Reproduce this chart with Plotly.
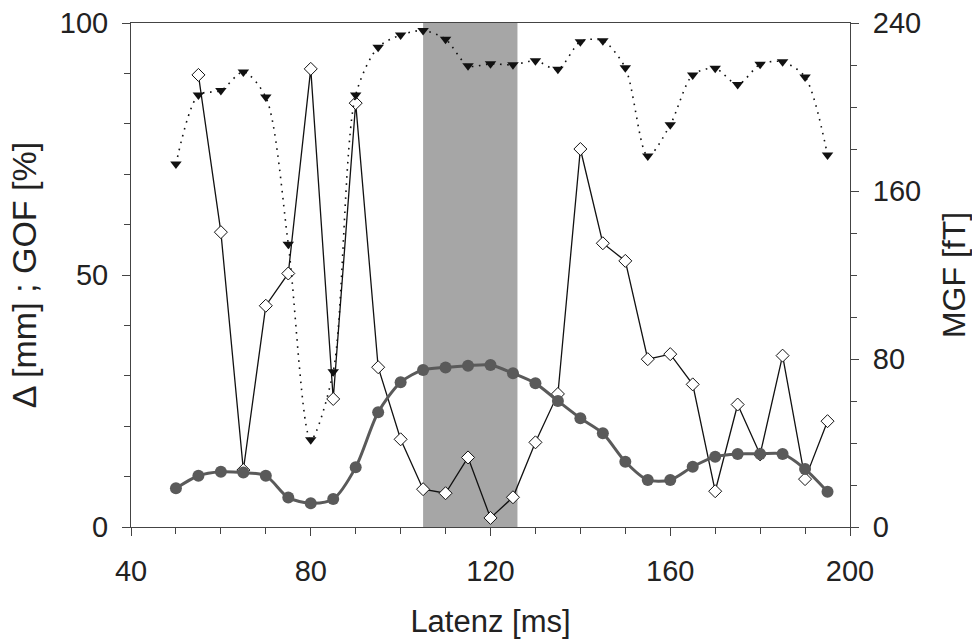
import plotly.graph_objects as go

# ---- data ----
latenz = [50, 55, 60, 65, 70, 75, 80, 85, 90, 95, 100, 105, 110, 115, 120,
          125, 130, 135, 140, 145, 150, 155, 160, 165, 170, 175, 180, 185, 190, 195]

gof = [72, 85.7, 86.6, 90.3, 85.3, 56.1, 17.3, 30.8, 85.7, 95.2, 97.6, 98.5, 96.8, 91.5, 91.9,
       91.7, 92.5, 90.8, 96.3, 96.5, 91.1, 73.6, 79.8, 89.7, 91.0, 87.8, 91.8, 92.3, 89.3, 73.8]

delta_x = latenz[1:]
delta = [89.7, 58.5, 11.3, 43.9, 50.3, 90.9, 25.4, 84.1, 31.7, 17.4, 7.5, 6.7, 13.8, 1.8,
         5.9, 16.8, 26.4, 75.0, 56.3, 52.8, 33.3, 34.3, 28.3, 7.1, 24.3, 14.4, 34.0, 9.5, 21.0]

mgf = [18.4, 24.4, 26.3, 25.9, 24.4, 14.0, 11.3, 13.3, 28.4, 54.6, 68.9, 74.8, 76.0, 76.8, 77.1,
       73.2, 68.4, 60.0, 51.8, 44.6, 31.1, 22.4, 22.4, 28.7, 33.5, 34.8, 34.8, 34.8, 27.6, 16.8]

band = [105, 126]

x_ticks = [40, 80, 120, 160, 200]
y_ticks = [0, 50, 100]
y2_ticks = [0, 80, 160, 240]

FONT = "Liberation Sans, Arial, sans-serif"
TXT = "#222222"
AX = "#444444"

fig = go.Figure()

fig.add_trace(go.Scatter(
    x=delta_x, y=delta, mode="lines+markers", name="Δ",
    line=dict(color="#111111", width=1.3),
    marker=dict(symbol="diamond", size=10, color="white",
                line=dict(color="#111111", width=1)),
    yaxis="y"))

fig.add_trace(go.Scatter(
    x=latenz, y=gof, mode="lines+markers", name="GOF",
    line=dict(color="#111111", width=1.6, dash="1.6px,5.5px", shape="spline", smoothing=0.8),
    marker=dict(symbol="triangle-down", size=10, color="#111111"),
    yaxis="y"))

fig.add_trace(go.Scatter(
    x=latenz, y=mgf, mode="lines+markers", name="MGF",
    line=dict(color="#5a5a5a", width=3, shape="spline", smoothing=0.8),
    marker=dict(symbol="circle", size=12, color="#5a5a5a"),
    yaxis="y2"))

fig.add_shape(type="rect", xref="x", yref="paper", x0=band[0], x1=band[1], y0=0, y1=1,
              fillcolor="#a6a6a6", line=dict(width=0), layer="below")

fig.update_layout(
    width=972, height=640,
    margin=dict(l=131, r=122, t=23, b=113),
    paper_bgcolor="white", plot_bgcolor="white",
    showlegend=False,
    font=dict(family=FONT, size=29, color=TXT),
    xaxis=dict(
        range=[40, 200], tickvals=x_ticks, ticks="outside", ticklen=8, tickwidth=1,
        tickcolor=AX, showline=True, linecolor=AX, linewidth=1, mirror=True,
        showgrid=False, zeroline=False, ticklabelstandoff=10,
        minor=dict(dtick=10, ticks="outside", ticklen=6, tickcolor=AX, showgrid=False),
        title=dict(text="Latenz [ms]", standoff=24, font=dict(size=31)),
        automargin=False),
    yaxis=dict(
        range=[0, 100], tickvals=y_ticks, ticks="outside", ticklen=8, tickwidth=1,
        tickcolor=AX, showline=True, linecolor=AX, linewidth=1,
        showgrid=False, zeroline=False, ticklabelstandoff=8,
        minor=dict(dtick=10, ticks="outside", ticklen=6, tickcolor=AX, showgrid=False),
        title=dict(text="Δ [mm] ; GOF [%]", standoff=12, font=dict(size=34)),
        automargin=False),
    yaxis2=dict(
        range=[0, 240], tickvals=y2_ticks, ticks="outside", ticklen=8, tickwidth=1,
        tickcolor=AX, showline=True, linecolor=AX, linewidth=1,
        overlaying="y", side="right",
        showgrid=False, zeroline=False, ticklabelstandoff=8,
        minor=dict(dtick=20, ticks="outside", ticklen=6, tickcolor=AX, showgrid=False),
        title=dict(text="MGF [fT]", standoff=22, font=dict(size=32)),
        automargin=False),
)

fig.write_html("out.html")
